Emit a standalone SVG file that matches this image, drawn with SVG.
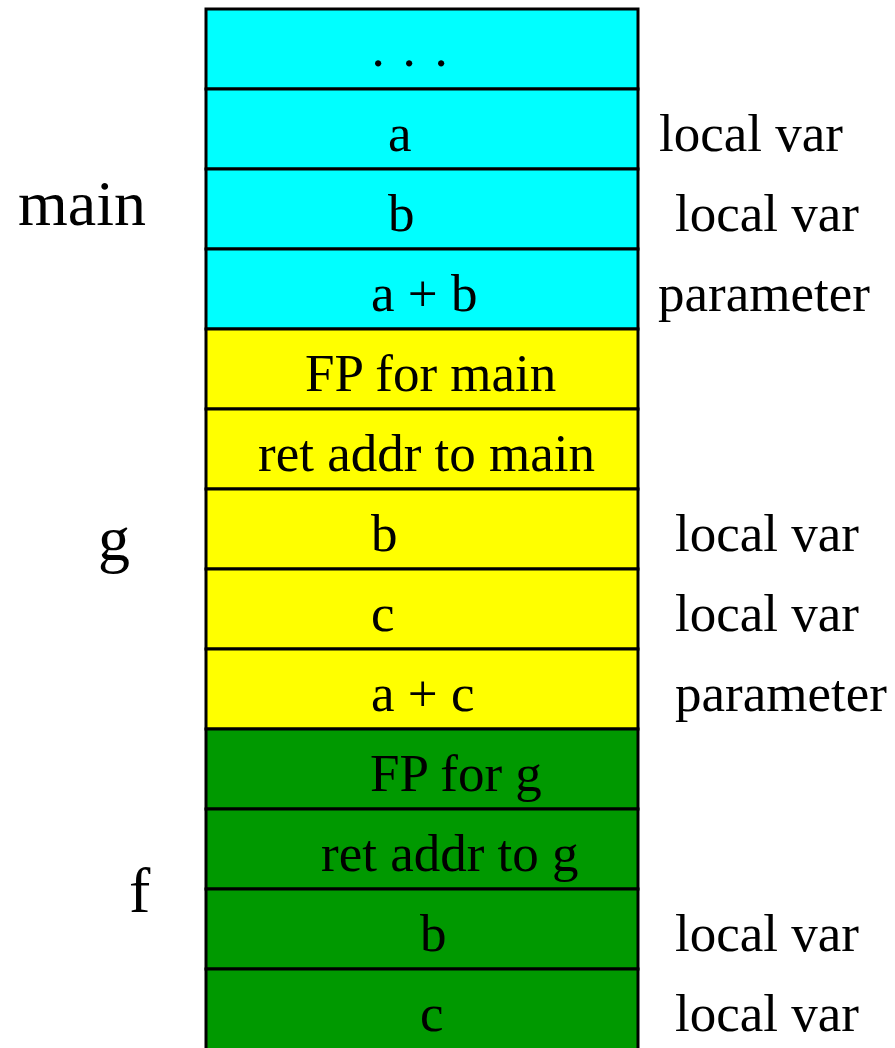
<svg xmlns="http://www.w3.org/2000/svg" width="895" height="1048" viewBox="0 0 895 1048">
<style>
text{font-family:"Liberation Serif","Times New Roman",serif;font-size:53px;fill:#000}
.big{font-size:64px}
.c{fill:#00ffff;stroke:#000;stroke-width:3}
.y{fill:#ffff00;stroke:#000;stroke-width:3}
.g{fill:#009900;stroke:#000;stroke-width:3}
</style>
<rect width="895" height="1048" fill="#fff"/>
<g id="frame-main">
<text class="big" x="18" y="225">main</text>
<g id="row0"><rect class="c" x="206" y="9" width="432" height="80"/><text x="371.5 387 402.5 418 434.5" y="66">. . .</text></g>
<g id="row1"><rect class="c" x="206" y="89" width="432" height="80"/><text x="388" y="151">a</text><text x="659" y="151">local var</text></g>
<g id="row2"><rect class="c" x="206" y="169" width="432" height="80"/><text x="388" y="231">b</text><text x="675" y="231">local var</text></g>
<g id="row3"><rect class="c" x="206" y="249" width="432" height="80"/><text x="371" y="311">a + b</text><text x="658" y="311">parameter</text></g>
</g>
<g id="frame-g">
<text class="big" x="98" y="560">g</text>
<g id="row4"><rect class="y" x="206" y="329" width="432" height="80"/><text x="305" y="391">FP for main</text></g>
<g id="row5"><rect class="y" x="206" y="409" width="432" height="80"/><text x="258" y="471">ret addr to main</text></g>
<g id="row6"><rect class="y" x="206" y="489" width="432" height="80"/><text x="371" y="551">b</text><text x="675" y="551">local var</text></g>
<g id="row7"><rect class="y" x="206" y="569" width="432" height="80"/><text x="371" y="631">c</text><text x="675" y="631">local var</text></g>
<g id="row8"><rect class="y" x="206" y="649" width="432" height="80"/><text x="371" y="711">a + c</text><text x="675" y="711">parameter</text></g>
</g>
<g id="frame-f">
<text class="big" x="129" y="912">f</text>
<g id="row9"><rect class="g" x="206" y="729" width="432" height="80"/><text x="370" y="791">FP for g</text></g>
<g id="row10"><rect class="g" x="206" y="809" width="432" height="80"/><text x="321" y="871">ret addr to g</text></g>
<g id="row11"><rect class="g" x="206" y="889" width="432" height="80"/><text x="420" y="951">b</text><text x="675" y="951">local var</text></g>
<g id="row12"><rect class="g" x="206" y="969" width="432" height="90"/><text x="420" y="1031">c</text><text x="675" y="1031">local var</text></g>
</g>
<g id="connectors"></g>
</svg>
